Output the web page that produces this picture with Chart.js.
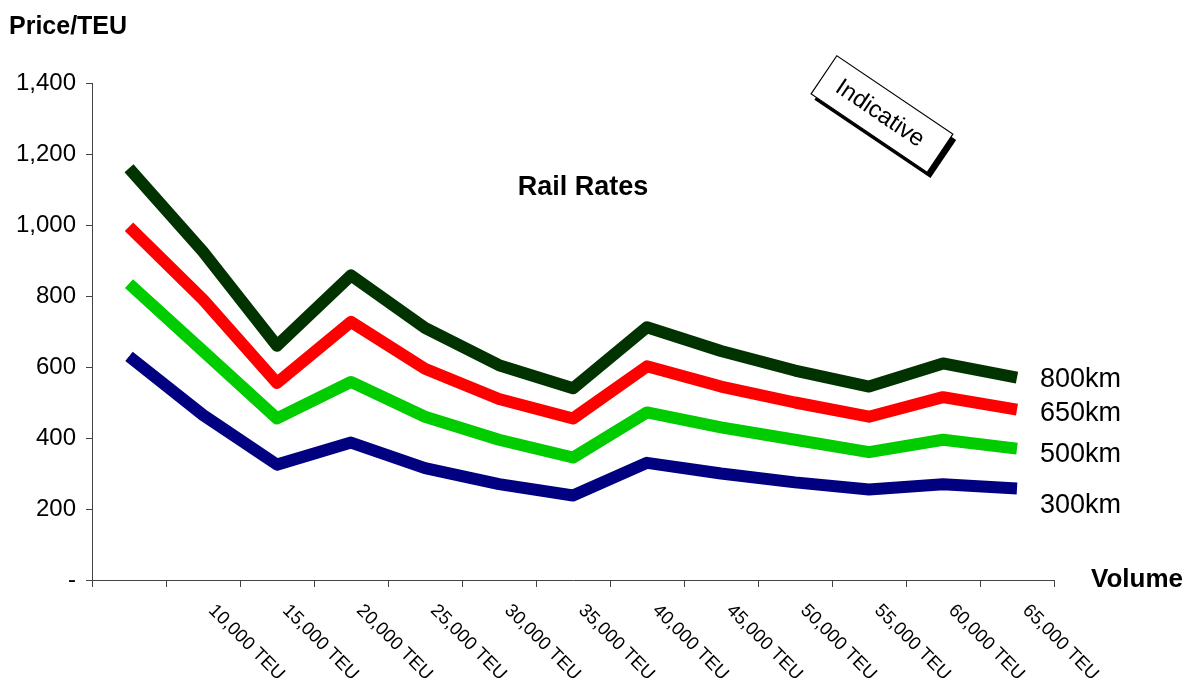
<!DOCTYPE html>
<html>
<head>
<meta charset="utf-8">
<title>Rail Rates</title>
<script src="https://cdn.jsdelivr.net/npm/chart.js@4/dist/chart.umd.min.js"></script>
<style>
    html, body { margin: 0; padding: 0; background: #fff; }
    #wrap { width: 1192px; height: 684px; }
</style>
</head>
<body>
<div id="wrap"><canvas id="railChart" width="1192" height="684"></canvas></div>
<script>
// ======================================================
// Data
// ======================================================

const volumes = [
    "", "10,000 TEU", "15,000 TEU", "20,000 TEU", "25,000 TEU", "30,000 TEU",
    "35,000 TEU", "40,000 TEU", "45,000 TEU", "50,000 TEU", "55,000 TEU",
    "60,000 TEU", "65,000 TEU"
];

const rate800 = [1160, 925, 660, 858, 710, 605, 540, 712, 645, 590, 545, 610, 570];
const rate650 = [995, 790, 555, 727, 595, 510, 455, 602, 545, 500, 460, 515, 480];
const rate500 = [835, 645, 455, 558, 460, 395, 345, 472, 430, 395, 360, 395, 370];
const rate300 = [630, 465, 325, 387, 315, 270, 238, 330, 300, 275, 255, 270, 258];

const seriesNames = ["800km", "650km", "500km", "300km"];
const seriesColors = ["#003300", "#ff0000", "#00cc00", "#000080"];

const yTicks = [0, 200, 400, 600, 800, 1000, 1200, 1400];

const FONT = "'Liberation Sans', Arial, sans-serif";

// ======================================================
// Text / annotation plugin
// ======================================================

const annotations = {
    id: "annotations",
    afterDraw(chart) {
        const ctx = chart.ctx;
        const x = chart.scales.x;
        const area = chart.chartArea;

        ctx.save();
        ctx.fillStyle = "#000";

        // rotated category labels
        ctx.font = "18.5px " + FONT;
        ctx.textAlign = "left";
        ctx.textBaseline = "top";
        volumes.forEach((label, i) => {
            if (!label) return;
            const px = x.getPixelForValue(i);
            ctx.save();
            ctx.translate(px + 15, area.bottom + 21);
            ctx.rotate(Math.PI / 4);
            ctx.fillText(label, 0, 0);
            ctx.restore();
        });

        // axis titles
        ctx.font = "bold 25px " + FONT;
        ctx.textBaseline = "alphabetic";
        ctx.fillText("Price/TEU", 9, 34);
        ctx.font = "bold 26px " + FONT;
        ctx.fillText("Volume", 1091, 587);

        // chart title
        ctx.font = "bold 27px " + FONT;
        ctx.textAlign = "center";
        ctx.fillText("Rail Rates", 583, 195);

        // series labels at the line ends
        const nudge = [2, 4, 6, 17];
        ctx.font = "27px " + FONT;
        ctx.textAlign = "left";
        ctx.textBaseline = "middle";
        chart.data.datasets.forEach((ds, i) => {
            const pts = chart.getDatasetMeta(i).data;
            const last = pts[pts.length - 1];
            ctx.fillText(seriesNames[i], 1040, last.y + nudge[i]);
        });

        // "Indicative" stamp
        ctx.translate(882, 114);
        ctx.rotate(34 * Math.PI / 180);
        ctx.fillStyle = "#000";
        ctx.fillRect(-70 + 6, -23 + 3, 140, 46);
        ctx.fillStyle = "#fff";
        ctx.fillRect(-70, -23, 140, 46);
        ctx.strokeStyle = "#000";
        ctx.lineWidth = 1.2;
        ctx.strokeRect(-70, -23, 140, 46);
        ctx.fillStyle = "#000";
        ctx.font = "24px " + FONT;
        ctx.textAlign = "center";
        ctx.textBaseline = "middle";
        ctx.fillText("Indicative", -2, 1);

        ctx.restore();
    }
};

// ======================================================
// Chart
// ======================================================

function lineSet(label, data, color) {
    return {
        label: label,
        data: data,
        borderColor: color,
        backgroundColor: color,
        borderWidth: 12,
        borderCapStyle: "butt",
        borderJoinStyle: "round",
        pointRadius: 0,
        tension: 0,
        fill: false
    };
}

new Chart(document.getElementById("railChart"), {
    type: "line",
    data: {
        labels: volumes,
        datasets: [
            lineSet(seriesNames[0], rate800, seriesColors[0]),
            lineSet(seriesNames[1], rate650, seriesColors[1]),
            lineSet(seriesNames[2], rate500, seriesColors[2]),
            lineSet(seriesNames[3], rate300, seriesColors[3])
        ]
    },
    options: {
        responsive: false,
        animation: false,
        layout: { padding: { top: 83, right: 138, bottom: 0, left: 0 } },
        plugins: {
            legend: { display: false },
            tooltip: { enabled: false }
        },
        scales: {
            x: {
                offset: true,
                grid: {
                    offset: true,
                    drawOnChartArea: false,
                    drawTicks: true,
                    tickLength: 7,
                    color: "#444"
                },
                border: { color: "#444", width: 1 },
                ticks: { display: false },
                afterFit: (scale) => { scale.height = 104; }
            },
            y: {
                min: 0,
                max: 1400,
                afterBuildTicks: (scale) => {
                    scale.ticks = yTicks.map(v => ({ value: v }));
                },
                grid: {
                    drawOnChartArea: false,
                    drawTicks: true,
                    tickLength: 6,
                    color: "#444"
                },
                border: { color: "#444", width: 1 },
                ticks: {
                    color: "#000",
                    padding: 10,
                    font: { family: FONT, size: 24 },
                    callback: (v) => v === 0 ? "-" : v.toLocaleString("en-US")
                },
                afterFit: (scale) => { scale.width = 92; }
            }
        }
    },
    plugins: [annotations]
});
</script>
</body>
</html>
